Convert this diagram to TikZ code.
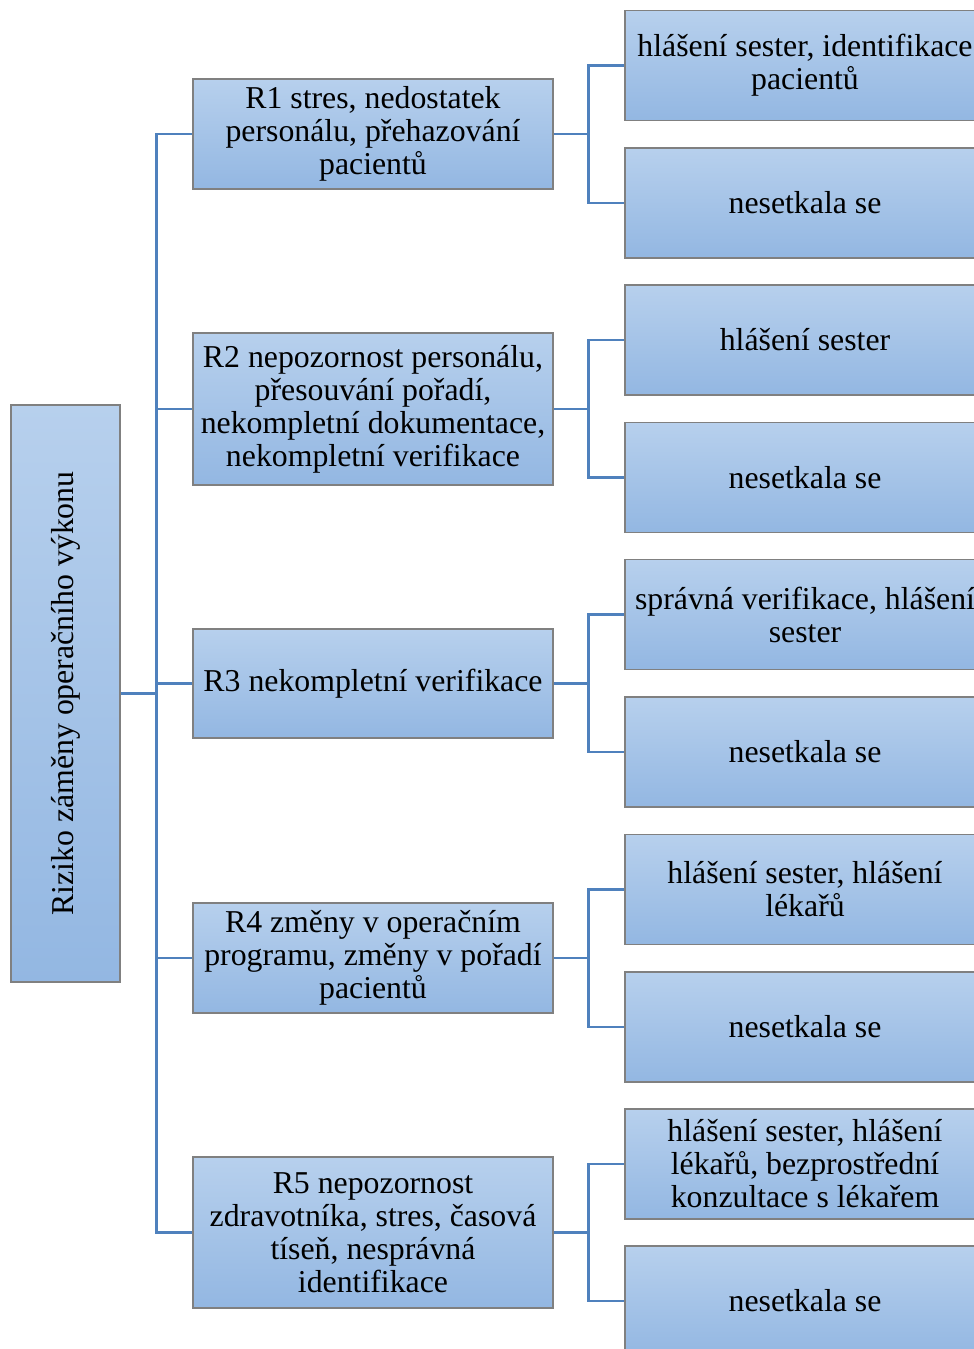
\documentclass[tikz,border=0pt]{standalone}
\usepackage{fontspec}
\setmainfont{Liberation Serif}
\begin{document}
\begin{tikzpicture}[x=1pt,y=-1pt,
  box/.style={draw=black!50, line width=1.3pt, top color=boxtop, bottom color=boxbot,
    align=center, inner sep=0pt, font=\fontsize{31.8}{33}\selectfont},
  rbox/.style={box, minimum width=360pt, minimum height=110pt},
  lbox/.style={box, minimum width=360pt},
  conn/.style={draw=connblue, line width=2.5pt}]
\definecolor{boxtop}{HTML}{B7D0ED}
\definecolor{boxbot}{HTML}{93B7E2}
\definecolor{connblue}{HTML}{4F81BD}
\useasboundingbox (0,0) rectangle (974,1349);
\clip (0,0) rectangle (974,1349);
\fill[white] (0,0) rectangle (974,1349);
% root
\node[box, minimum width=109pt, minimum height=577pt] (root) at (65.5,693.5) {};
\node[rotate=90, font=\fontsize{31.8}{33}\selectfont] (roottext) at (root.center) {Riziko záměny operačního výkonu};
% level 1
\node[lbox, minimum height=110pt] (r1) at (373,134) {R1 stres, nedostatek\\personálu, přehazování\\pacientů};
\node[lbox, minimum height=152pt] (r2) at (373,409) {R2 nepozornost personálu,\\přesouvání pořadí,\\nekompletní dokumentace,\\nekompletní verifikace};
\node[lbox, minimum height=109pt] (r3) at (373,683.5) {R3 nekompletní verifikace};
\node[lbox, minimum height=110pt] (r4) at (373,958) {R4 změny v operačním\\programu, změny v pořadí\\pacientů};
\node[lbox, minimum height=151pt] (r5) at (373,1232.5) {R5 nepozornost\\zdravotníka, stres, časová\\tíseň, nesprávná\\identifikace};
% level 2
\node[rbox] (r1a) at (805,65.5) {hlášení sester, identifikace\\pacientů};
\node[rbox] (r1b) at (805,203) {nesetkala se};
\node[rbox] (r2a) at (805,340) {hlášení sester};
\node[rbox] (r2b) at (805,477.5) {nesetkala se};
\node[rbox] (r3a) at (805,614.5) {správná verifikace, hlášení\\sester};
\node[rbox] (r3b) at (805,752) {nesetkala se};
\node[rbox] (r4a) at (805,889.5) {hlášení sester, hlášení\\lékařů};
\node[rbox] (r4b) at (805,1027) {nesetkala se};
\node[rbox] (r5a) at (805,1164) {hlášení sester, hlášení\\lékařů, bezprostřední\\konzultace s lékařem};
\node[rbox] (r5b) at (805,1301) {nesetkala se};
% connectors
\draw[conn] (root.east) -- ++(37,0);
\draw[conn] (r1.west) -- ++(-36,0) |- (r5.west);
\foreach \n in {r2,r3,r4} {\draw[conn] (\n.west) -- ++(-36,0);}
\foreach \n in {r1,r2,r3,r4,r5} {
  \draw[conn] (\n.east) -- ++(36,0);
  \draw[conn] (\n a.west) -- ++(-36,0) |- (\n b.west);
}
\end{tikzpicture}
\end{document}
